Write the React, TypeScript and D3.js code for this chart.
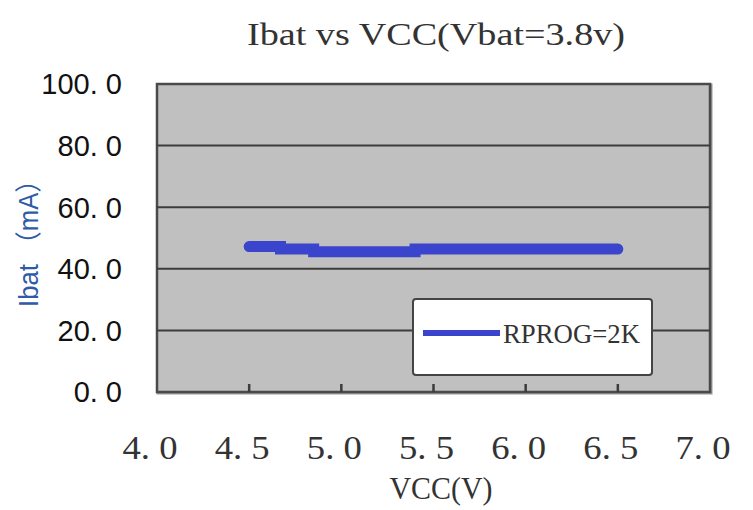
import React from "react";
import * as d3 from "d3";

const VCC = [4.5, 4.67, 4.85, 5.4, 6.5];
const IBAT = [47.2, 46.4, 45.5, 46.4, 46.4];
const X_TICKS = [4.0, 4.5, 5.0, 5.5, 6.0, 6.5, 7.0];
const Y_TICKS = [0, 20, 40, 60, 80, 100];
const TITLE = "Ibat vs VCC(Vbat=3.8v)";
const X_TITLE = "VCC(V)";
const Y_TITLE = "Ibat （mA）";
const SERIES = "RPROG=2K";

const W = 753, H = 510;
const M = { left: 157, right: 710, top: 84, bottom: 392 };

export default function App() {
  const x = d3.scaleLinear().domain([4, 7]).range([M.left, M.right]);
  const y = d3.scaleLinear().domain([0, 100]).range([M.bottom, M.top]);
  const pts: [number, number][] = VCC.map((v, i) => [v, IBAT[i]]);
  const line = d3
    .line<[number, number]>()
    .x((d) => x(d[0]))
    .y((d) => y(d[1]))
    .curve(d3.curveStepAfter);
  const serif = "'Liberation Serif', 'DejaVu Serif', serif";
  const sans = "'Liberation Sans', Arial, 'Noto Sans CJK SC', sans-serif";
  const blue = "#3a44cc";
  return (
    <svg
      width={W}
      height={H}
      viewBox={`0 0 ${W} ${H}`}
      style={{ position: "absolute", left: 0, top: 0, background: "#fff" }}
    >
      <text
        x={436}
        y={45}
        textAnchor="middle"
        fontFamily={serif}
        fontSize={32}
        fill="#333"
        textLength={378}
        lengthAdjust="spacingAndGlyphs"
      >
        {TITLE}
      </text>
      <rect
        x={M.left + 1}
        y={M.top + 1}
        width={M.right - M.left}
        height={M.bottom - M.top}
        fill="none"
        stroke="#999"
        strokeWidth={3}
      />
      <rect
        x={M.left}
        y={M.top}
        width={M.right - M.left}
        height={M.bottom - M.top}
        fill="#c0c0c0"
        stroke="#4a4a4a"
        strokeWidth={2.5}
      />
      {Y_TICKS.filter((t) => t > 0 && t < 100).map((t) => (
        <line
          key={t}
          x1={M.left}
          x2={M.right}
          y1={y(t)}
          y2={y(t)}
          stroke="#3c3c3c"
          strokeWidth={2}
        />
      ))}
      {X_TICKS.filter((t) => t > 4 && t < 7).map((t) => (
        <line
          key={t}
          x1={x(t)}
          x2={x(t)}
          y1={M.bottom}
          y2={M.bottom - 8}
          stroke="#3c3c3c"
          strokeWidth={2.5}
        />
      ))}
      {Y_TICKS.map((t) => (
        <text
          key={t}
          x={122}
          y={y(t)}
          dy="0.36em"
          textAnchor="end"
          fontFamily={sans}
          fontSize={29}
          fill="#111"
        >
          {t.toFixed(1).replace(".", ". ")}
        </text>
      ))}
      {X_TICKS.map((t) => (
        <text
          key={t}
          x={x(t) - 7}
          y={459}
          textAnchor="middle"
          fontFamily={serif}
          fontSize={33}
          fill="#333"
          textLength={55}
          lengthAdjust="spacingAndGlyphs"
        >
          {t.toFixed(1).replace(".", ". ")}
        </text>
      ))}
      <text
        x={441}
        y={499}
        textAnchor="middle"
        fontFamily={serif}
        fontSize={31}
        fill="#333"
        textLength={103}
        lengthAdjust="spacingAndGlyphs"
      >
        {X_TITLE}
      </text>
      <text
        transform={`translate(38,237) rotate(-90)`}
        textAnchor="middle"
        fontFamily={sans}
        fontSize={27}
        fill="#2f5aa8"
        textLength={140}
        lengthAdjust="spacingAndGlyphs"
      >
        {Y_TITLE}
      </text>
      <path
        d={line(pts) ?? ""}
        fill="none"
        stroke={blue}
        strokeWidth={11}
        strokeLinecap="round"
        strokeLinejoin="miter"
      />
      <rect x={413} y={299} width={239} height={76} rx={3} fill="#fff" stroke="#444" strokeWidth={2} />
      <line x1={423} x2={500} y1={333} y2={333} stroke={blue} strokeWidth={6} />
      <text
        x={503}
        y={343}
        fontFamily={serif}
        fontSize={27}
        fill="#333"
        textLength={137}
        lengthAdjust="spacingAndGlyphs"
      >
        {SERIES}
      </text>
    </svg>
  );
}
